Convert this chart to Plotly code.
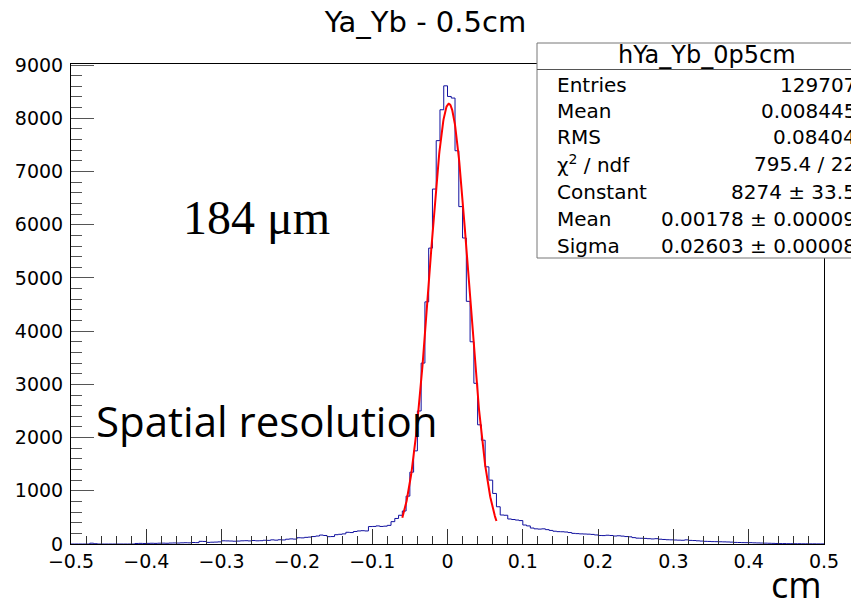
import numpy as np
import plotly.graph_objects as go

# ---------------- data ----------------
bin_lo = -0.5
bin_w = 0.005
counts = [
    # -0.500 .. -0.450
    0, 0, 0, 0, 0, 15, 5, 0, 0, 0,
    # -0.450 .. -0.400
    0, 0, 0, 0, 0, 0, 0, 10, 12, 10,
    # -0.400 .. -0.350
    12, 14, 12, 15, 16, 14, 18, 20, 18, 22,
    # -0.350 .. -0.300
    24, 22, 28, 26, 50, 48, 30, 34, 36, 40,
    # -0.300 .. -0.250
    60, 58, 56, 52, 55, 60, 62, 58, 65, 60,
    # -0.250 .. -0.200
    62, 70, 68, 78, 72, 80, 76, 90, 96, 92,
    # -0.200 .. -0.150
    118, 115, 125, 130, 140, 150, 168, 160, 138, 140,
    # -0.150 .. -0.100
    175, 182, 190, 220, 215, 235, 245, 250, 245, 328,
    # -0.100 .. -0.050
    330, 340, 330, 335, 350, 420, 480, 540, 620, 900,
    # -0.050 .. 0.000
    1350, 1750, 2500, 3400, 4550, 5560, 6670, 7580, 8160, 8610,
    # 0.000 .. 0.050
    8410, 8380, 7390, 6340, 5750, 4560, 3800, 3020, 2240, 1950,
    # 0.050 .. 0.100
    1450, 1200, 950, 700, 545, 540, 470, 460, 450, 440,
    # 0.100 .. 0.150
    357, 340, 300, 285, 280, 285, 270, 255, 240, 232,
    # 0.150 .. 0.200
    230, 225, 215, 200, 195, 190, 188, 185, 180, 170,
    # 0.200 .. 0.250
    160, 158, 165, 160, 150, 155, 148, 140, 135, 120,
    # 0.250 .. 0.300
    110, 108, 105, 100, 95, 100, 90, 85, 80, 78,
    # 0.300 .. 0.350
    75, 72, 70, 78, 68, 65, 60, 55, 50, 48,
    # 0.350 .. 0.400
    45, 44, 42, 40, 38, 35, 30, 28, 26, 25,
    # 0.400 .. 0.450
    25, 22, 20, 18, 16, 14, 12, 10, 8, 8,
    # 0.450 .. 0.500
    6, 6, 5, 5, 4, 4, 3, 3, 2, 2,
]

# Gaussian fit result (from stats box)
fit_const = 8274
fit_mean = 0.00178
fit_sigma = 0.02603
fit_range = [-0.06, 0.065]

stats_title = "hYa_Yb_0p5cm"
stats_labels = ["Entries", "Mean", "RMS", "χ<sup>2</sup> / ndf", "Constant", "Mean", "Sigma"]
stats_values = ["129707", "0.008445", "0.08404", "795.4 / 22", "8274 ± 33.5",
                "0.00178 ± 0.00009", "0.02603 ± 0.00008"]

# ---------------- geometry ----------------
W, H = 851, 599
PL, PR, PT, PB = 71, 824, 64, 544

def px(xp):
    return (xp - PL) / (PR - PL)

def py(yp):
    return (PB - yp) / (PB - PT)

n = len(counts)
edges = bin_lo + bin_w * np.arange(n + 1)
xs = list(edges)
ys = list(counts) + [counts[-1]]

fx = np.linspace(fit_range[0], fit_range[1], 300)
fy = fit_const * np.exp(-0.5 * ((fx - fit_mean) / fit_sigma) ** 2)

fig = go.Figure()
fig.add_trace(go.Scatter(x=xs, y=ys, mode="lines", line=dict(color="#10109f", width=1, shape="hv"),
                         hoverinfo="skip", showlegend=False))
fig.add_trace(go.Scatter(x=fx, y=fy, mode="lines", line=dict(color="#ff0000", width=2),
                         hoverinfo="skip", showlegend=False))

SANS = "DejaVu Sans, Verdana, sans-serif"
tickfont = dict(family=SANS, size=19, color="black")

fig.update_xaxes(range=[-0.5, 0.5], dtick=0.1, tick0=0, ticks="inside", ticklen=15, tickwidth=1,
                 tickcolor="#333", showline=True, linecolor="black", linewidth=1, mirror=True,
                 showgrid=False, zeroline=False, tickfont=tickfont, ticklabelstandoff=0,
                 minor=dict(ticks="inside", ticklen=8, dtick=0.02, tickcolor="#333", showgrid=False))
fig.update_yaxes(range=[0, 9020], dtick=1000, tick0=0, ticks="inside", ticklen=23, tickwidth=1,
                 tickcolor="#555", showline=True, linecolor="black", linewidth=1, mirror=True,
                 showgrid=False, zeroline=False, tickfont=tickfont, tickformat="d",
                 ticklabelstandoff=3,
                 minor=dict(ticks="inside", ticklen=11, dtick=200, tickcolor="#555", showgrid=False))

shapes = [
    dict(type="rect", xref="paper", yref="paper", x0=px(537), x1=px(900), y0=py(258), y1=py(43),
         line=dict(color="#777", width=1), fillcolor="white", layer="above"),
    dict(type="line", xref="paper", yref="paper", x0=px(537), x1=px(900), y0=py(69.5), y1=py(69.5),
         line=dict(color="#555", width=1), layer="above"),
]

statfont = dict(family=SANS, size=20, color="black")
annotations = [
    dict(text=stats_title, x=px(707), y=py(55.5), xref="paper", yref="paper", showarrow=False,
         xanchor="center", yanchor="middle", font=dict(family=SANS, size=24, color="black")),
]
row_y = [85, 111, 137.5, 164, 191.5, 219, 245.5]
for lab, val, yy in zip(stats_labels, stats_values, row_y):
    annotations.append(dict(text=lab, x=px(555), y=py(yy), xref="paper", yref="paper", showarrow=False,
                            xanchor="left", yanchor="middle", font=statfont))
    annotations.append(dict(text=val, x=px(858), y=py(yy), xref="paper", yref="paper", showarrow=False,
                            xanchor="right", yanchor="middle", font=statfont))

annotations += [
    dict(text="184 μm", x=px(256), y=py(217), xref="paper", yref="paper", showarrow=False,
         xanchor="center", yanchor="middle",
         font=dict(family="Liberation Serif, Times New Roman, serif", size=48, color="black")),
    dict(text="Spatial resolution", x=px(266), y=py(420), xref="paper", yref="paper", showarrow=False,
         xanchor="center", yanchor="middle",
         font=dict(family="Open Sans, sans-serif", size=42, color="black")),
    dict(text="cm", x=px(796), y=py(584), xref="paper", yref="paper", showarrow=False,
         xanchor="center", yanchor="middle",
         font=dict(family="Open Sans, sans-serif", size=36, color="black")),
]

fig.update_layout(
    width=W, height=H, autosize=False,
    margin=dict(l=PL, r=W - PR, t=PT, b=H - PB, pad=0),
    paper_bgcolor="white", plot_bgcolor="white",
    title=dict(text="Ya_Yb - 0.5cm", x=0.5, xanchor="center", y=1 - 22 / H, yanchor="middle",
               font=dict(family=SANS, size=29, color="black")),
    shapes=shapes, annotations=annotations, showlegend=False,
)

fig.write_html("out.html")
